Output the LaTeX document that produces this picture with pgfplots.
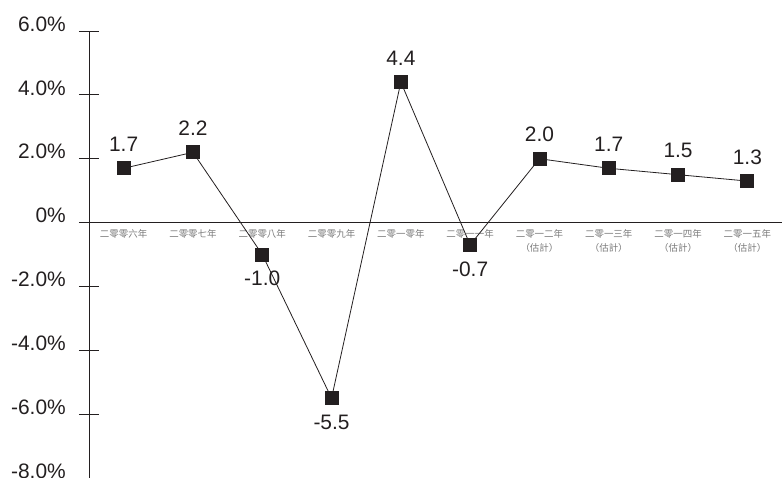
\documentclass[border=0pt]{standalone}
\usepackage{pgfplots}
\pgfplotsset{compat=1.18}
\usepackage{fontspec}
\setmainfont{Liberation Sans}
\newfontfamily\cjk{Noto Sans CJK TC}
\definecolor{ink}{HTML}{231F20}
\definecolor{catgray}{HTML}{7A7A7A}

\pgfplotstableread{
x y lab
0 1.7 1.7
1 2.2 2.2
2 -1.0 -1.0
3 -5.5 -5.5
4 4.4 4.4
5 -0.7 -0.7
6 2.0 2.0
7 1.7 1.7
8 1.5 1.5
9 1.3 1.3
}\growth

\begin{document}
\begin{tikzpicture}
\begin{axis}[
    scale only axis,
    width=693bp, height=447bp,
    xmin=-0.5, xmax=9.5,
    ymin=-8, ymax=6,
    clip=false,
    axis y line*=left,
    axis x line*=middle,
    axis line style={ink, line width=0.8bp},
    xtick={0,...,9},
    xticklabels={二零零六年,二零零七年,二零零八年,二零零九年,二零一零年,二零一一年,
        {二零一二年\\（估計）},{二零一三年\\（估計）},{二零一四年\\（估計）},{二零一五年\\（估計）}},
    xtick style={draw=none},
    xticklabel style={font=\cjk\fontsize{9.5}{14}\selectfont, text=catgray,
        align=center, anchor=north, inner sep=1bp, yshift=4bp},
    ytick={-8,-6,...,6},
    yticklabels={-8.0\%,-6.0\%,-4.0\%,-2.0\%,0\%,2.0\%,4.0\%,6.0\%},
    yticklabel style={font=\fontsize{21}{24}\selectfont, text=ink,
        anchor=east, inner sep=0bp, xshift=-13bp, yshift=7bp},
    ytick style={ink, line width=0.8bp},
    tick align=center,
    major tick length=20bp,
]
\addplot[ink, line width=0.8bp, mark=square*, mark size=6.5bp,
    mark options={fill=ink, draw=ink},
    point meta=explicit symbolic,
    visualization depends on={y \as \rawy},
    nodes near coords,
    nodes near coords style={font=\fontsize{21}{24}\selectfont, text=ink,
        anchor=center, yshift={\ifdim\rawy pt<0pt -24bp\else 24bp\fi}}]
    table[x=x, y=y, meta=lab] {\growth};
\end{axis}
\pgfresetboundingbox
\useasboundingbox (-89bp,0bp) rectangle (693bp,478bp);
\end{tikzpicture}
\end{document}
